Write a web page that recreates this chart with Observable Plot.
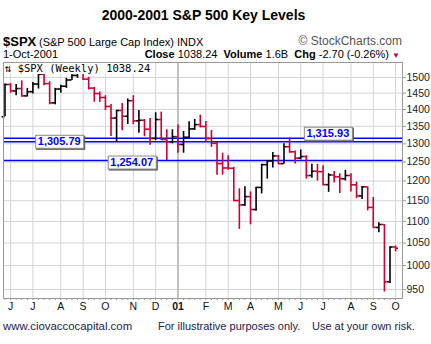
<!DOCTYPE html>
<html><head><meta charset="utf-8">
<script src="https://cdn.jsdelivr.net/npm/d3@7"></script>
<script src="https://cdn.jsdelivr.net/npm/@observablehq/plot@0.6"></script>
<style>
body{margin:0;background:#fff;}
#wrap{position:relative;width:431px;height:344px;overflow:hidden;font-family:"Liberation Sans",Arial,sans-serif;background:#fff;color:#000}
#wrap svg{position:absolute;left:0;top:0}
.abs{position:absolute;white-space:nowrap;line-height:0.8}
</style></head><body><div id="wrap">
<div class="abs" style="left:0;width:407px;text-align:center;top:9.5px;font-size:14px;font-weight:bold">2000-2001 S&amp;P 500 Key Levels</div>
<div class="abs" style="left:3px;top:37px;font-size:13px;font-weight:bold">$SPX</div>
<div class="abs" style="left:39px;top:37.5px;font-size:11px">(S&amp;P 500 Large Cap Index) INDX</div>
<div class="abs" style="right:29px;top:36.7px;font-size:12px;color:#555">© StockCharts.com</div>
<div class="abs" style="left:3px;top:49.5px;font-size:11px">1-Oct-2001</div>
<div class="abs" style="right:31px;top:49.5px;font-size:11px"><b>Close</b> 1038.24&nbsp; <b>Volume</b> 1.6B&nbsp; <b>Chg</b> -2.70 (-0.26%) <span style="color:#cc0033;font-size:8px">▼</span></div>
<div class="abs" style="left:3px;top:321.5px;font-size:11.4px;color:#1c1c4c">www.ciovaccocapital.com</div>
<div class="abs" style="left:158px;top:321.8px;font-size:11px;color:#1c1c4c">For illustrative purposes only.</div>
<div class="abs" style="left:312px;top:321.8px;font-size:11px;color:#1c1c4c">Use at your own risk.</div>
</div>
<script>
// Weekly bars (week starting Monday)
const weeks = ["2000-05-29","2000-06-05","2000-06-12","2000-06-19","2000-06-26","2000-07-03","2000-07-10","2000-07-17","2000-07-24","2000-07-31",
"2000-08-07","2000-08-14","2000-08-21","2000-08-28","2000-09-04","2000-09-11","2000-09-18","2000-09-25","2000-10-02","2000-10-09",
"2000-10-16","2000-10-23","2000-10-30","2000-11-06","2000-11-13","2000-11-20","2000-11-27","2000-12-04","2000-12-11","2000-12-18",
"2000-12-25","2001-01-01","2001-01-08","2001-01-15","2001-01-22","2001-01-29","2001-02-05","2001-02-12","2001-02-19","2001-02-26",
"2001-03-05","2001-03-12","2001-03-19","2001-03-26","2001-04-02","2001-04-09","2001-04-16","2001-04-23","2001-04-30","2001-05-07",
"2001-05-14","2001-05-21","2001-05-28","2001-06-04","2001-06-11","2001-06-18","2001-06-25","2001-07-02","2001-07-09","2001-07-16",
"2001-07-23","2001-07-30","2001-08-06","2001-08-13","2001-08-20","2001-08-27","2001-09-03","2001-09-10","2001-09-17","2001-09-24",
"2001-10-01"];
const opens = [1378.02,1477.26,1456.95,1464.46,1441.48,1454.60,1478.90,1509.98,1480.19,1419.89,
1462.93,1471.84,1491.72,1506.45,1520.77,1494.50,1465.81,1448.72,1436.51,1408.99,
1374.17,1396.93,1379.58,1426.69,1365.98,1367.72,1341.77,1315.23,1369.89,1312.15,
1305.95,1320.28,1298.35,1318.55,1342.54,1354.95,1349.47,1314.76,1301.53,1245.86,
1234.18,1233.42,1150.53,1139.83,1160.33,1128.43,1183.50,1242.98,1253.05,1266.61,
1245.67,1291.96,1277.89,1260.67,1264.96,1214.36,1225.35,1224.42,1190.59,1215.68,
1210.85,1205.82,1214.35,1190.16,1161.97,1184.93,1133.58,1085.78,1092.54,965.80,
1040.94];
const highs = [1479,1480,1477,1489,1465,1484,1512,1517,1486,1465,
1475,1497,1509,1525,1530,1500,1468,1454,1442,1415,
1397,1418,1432,1442,1397,1370,1373,1390,1392,1340,
1340,1354,1335,1363,1370,1383,1364,1338,1304,1274,
1267,1236,1180,1185,1172,1183.5,1244,1254,1276,1268,
1300,1315.93,1280,1283,1267,1244,1244,1240,1219,1225,
1219,1228,1219,1197,1185,1185,1158,1096.94,1092.54,1040.94,
1043];
const lows = [1378,1450,1442,1438,1438,1447,1463,1473,1414,1414,
1450,1465,1490,1497,1490,1460,1422,1421,1397,1321,
1305.79,1337,1355,1355,1330,1320,1296,1309,1310,1254.07,
1300,1274,1274,1314,1338,1346,1304,1290,1215,1215,
1228,1148,1081.19,1136,1091.99,1124,1167,1205,1234,1244,
1244,1274,1245,1256,1205,1207,1200,1189,1171,1195,
1168,1200,1172,1155,1153,1125,1085,1073.15,944.75,962,
1030];
const closes = [1477.26,1456.95,1464.46,1441.48,1454.60,1478.90,1509.98,1480.19,1419.89,1462.93,
1471.84,1491.72,1506.45,1520.77,1494.50,1465.81,1448.72,1436.51,1408.99,1374.17,
1396.93,1379.58,1426.69,1365.98,1367.72,1341.77,1315.23,1369.89,1312.15,1305.95,
1320.28,1298.35,1318.55,1342.54,1354.95,1349.47,1314.76,1301.53,1245.86,1234.18,
1233.42,1150.53,1139.83,1160.33,1128.43,1183.50,1242.98,1253.05,1266.61,1245.67,
1291.96,1277.89,1260.67,1264.96,1214.36,1225.35,1224.42,1190.59,1215.68,1210.85,
1205.82,1214.35,1190.16,1161.97,1184.93,1133.58,1085.78,1092.54,965.80,1040.94,
1038.24];

// Key levels and where their labels sit
const levels = [1305.79, 1254.07, 1315.93];
const levelLabelDates = ["2000-08-05", "2000-11-04", "2001-07-08"];

// Axis ticks
const monthTicks = ["2000-06-05","2000-07-03","2000-08-07","2000-09-04","2000-10-02","2000-11-06","2000-12-04",
"2001-01-01","2001-02-05","2001-03-05","2001-04-02","2001-05-07","2001-06-04","2001-07-02","2001-08-06","2001-09-03","2001-10-01"];
const monthLabels = ["J","J","A","S","O","N","D","01","F","M","A","M","J","J","A","S","O"];
const yTicks = [950,1000,1050,1100,1150,1200,1250,1300,1350,1400,1450,1500];

const parse = d3.utcParse("%Y-%m-%d");
const rows = weeks.map((w, i) => ({
  date: parse(w), open: opens[i], high: highs[i], low: lows[i], close: closes[i],
  dir: closes[i] >= opens[i] ? "up" : "down"
}));
const monthDates = monthTicks.map(parse);
const labelMap = new Map(monthDates.map((d, i) => [+d, monthLabels[i]]));
const weekDates = rows.map(d => d.date);
const DAY = 864e5, T = 3.6 * DAY;
const fmt = d3.format(",.2f");
const dys = [0, 2, -4.5];

const labelMarks = levels.map((v, k) => Plot.text([v], {
  x: () => parse(levelLabelDates[k]), y: d => d, text: d => fmt(d),
  dy: dys[k], fill: "#0000ff", fontWeight: "bold", fontSize: 11
}));

const svg = Plot.plot({
  width: 431, height: 344,
  marginTop: 62, marginBottom: 46, marginLeft: 3, marginRight: 29,
  style: {fontFamily: "Liberation Sans, Arial, sans-serif", fontSize: "10.5px", background: "transparent", color: "#222"},
  x: {type: "utc", domain: [new Date(Date.UTC(2000, 4, 27, 3)), new Date(Date.UTC(2001, 9, 9, 16))]},
  y: {type: "log", domain: [931.6, 1549]},
  color: {domain: ["up", "down"], range: ["#000000", "#cc0033"]},
  marks: [
    Plot.gridY(yTicks, {stroke: "#d4d4d4", strokeOpacity: 1}),
    Plot.gridX(monthDates, {stroke: "#d4d4d4", strokeOpacity: 1}),
    Plot.gridX([monthDates[7]], {stroke: "#9c9c9c", strokeOpacity: 1}),
    Plot.ruleY(levels, {stroke: "#0000ff", strokeWidth: 1.6}),
    Plot.ruleX(rows, {x: "date", y1: "low", y2: "high", stroke: "dir", strokeWidth: 1.6}),
    Plot.ruleY(rows, {x1: d => new Date(+d.date - T), x2: "date", y: "open", stroke: "dir", strokeWidth: 1.6}),
    Plot.ruleY(rows, {x1: "date", x2: d => new Date(+d.date + T), y: "close", stroke: "dir", strokeWidth: 1.6}),
    Plot.frame({stroke: "#999"}),
    Plot.axisX(weekDates, {anchor: "bottom", tickSize: 2, tickFormat: () => "", stroke: "#999"}),
    Plot.axisX(monthDates, {anchor: "bottom", tickSize: 0, tickPadding: 4, tickFormat: d => labelMap.get(+d), fontSize: 10.5, fill: "#111"}),
    Plot.axisY(yTicks, {anchor: "right", tickSize: 3, tickPadding: 1, tickFormat: d => String(d), fontSize: 10.5, fill: "#222", stroke: "#999"}),
    ...labelMarks
  ]
});
const wrap = document.getElementById("wrap");
wrap.insertBefore(svg, wrap.firstChild);

// bold year label
svg.querySelectorAll("text").forEach(t => { if (t.textContent === "01") t.setAttribute("font-weight", "bold"); });

// boxes behind level labels
const NS = "http://www.w3.org/2000/svg";
svg.querySelectorAll('g[aria-label="text"] text').forEach(t => {
  const b = t.getBBox();
  const g = t.parentNode;
  const tr = t.getAttribute("transform");
  const x = Math.round(b.x - 2.5) + 0.5, y = Math.round(b.y - 0.5) + 0.5;
  const w = Math.round(b.width + 5), h = Math.round(b.height + 0.5);
  const sh = document.createElementNS(NS, "rect");
  sh.setAttribute("x", x + 1); sh.setAttribute("y", y + 1);
  sh.setAttribute("width", w); sh.setAttribute("height", h);
  sh.setAttribute("fill", "#555"); sh.setAttribute("stroke", "#555");
  const r = document.createElementNS(NS, "rect");
  r.setAttribute("x", x); r.setAttribute("y", y);
  r.setAttribute("width", w); r.setAttribute("height", h);
  r.setAttribute("fill", "#fff"); r.setAttribute("stroke", "#8a8a8a");
  if (tr) { sh.setAttribute("transform", tr); r.setAttribute("transform", tr); }
  g.insertBefore(sh, t); g.insertBefore(r, t);
});

// legend label inside plot, top-left, on white
const lg = document.createElement("div");
lg.className = "abs";
lg.style.cssText = "left:4px;top:63px;width:148px;height:11px;background:#fff;font-family:'DejaVu Sans Mono',monospace;font-size:10.5px;line-height:11px;padding-left:1px;box-sizing:border-box";
lg.textContent = "⇅ $SPX (Weekly) 1038.24";
wrap.appendChild(lg);
</script>
</body></html>
